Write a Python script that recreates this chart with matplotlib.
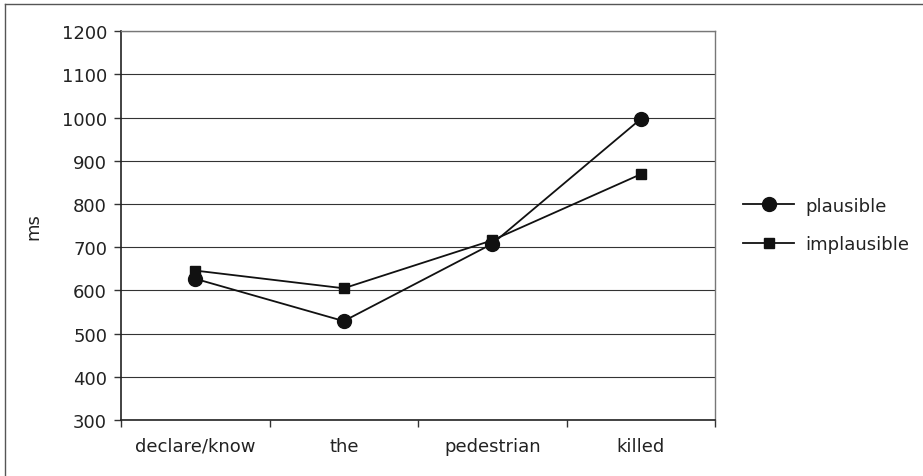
import matplotlib
matplotlib.use("Agg")
import matplotlib.pyplot as plt
from matplotlib.lines import Line2D

categories = ["declare/know", "the", "pedestrian", "killed"]
plausible = [627, 529, 708, 997]
implausible = [646, 605, 716, 869]
y_ticks = list(range(300, 1201, 100))

plt.rcParams['font.family'] = ['DejaVu Sans']
txt = "#222222"
fs = 13

fig = plt.figure(figsize=(9.23, 4.77), dpi=100)
ax = fig.add_axes([121 / 923, 1 - 421 / 477, (715 - 121) / 923, (421 - 32.3) / 477])

x = list(range(1, len(categories) + 1))
ax.plot(x, plausible, color="#111111", lw=1.3, marker="o", markersize=10, label="plausible")
ax.plot(x, implausible, color="#111111", lw=1.3, marker="s", markersize=7.5, label="implausible")

ax.set_xlim(0.5, len(categories) + 0.5)
ax.set_ylim(300, 1200)
ax.set_yticks(y_ticks)
ax.set_yticklabels([str(v) for v in y_ticks], fontsize=fs, color=txt)
ax.set_xticks([i + 0.5 for i in range(0, len(categories) + 1)])
ax.set_xticklabels([])
ax.set_xticks(x, minor=True)
ax.set_xticklabels(categories, minor=True, fontsize=fs, color=txt)
ax.tick_params(axis="x", which="minor", length=0, pad=12)
ax.tick_params(axis="x", which="major", length=5, width=1, color="#333333")
ax.tick_params(axis="y", length=5, width=1, color="#333333", pad=5)
ax.grid(True, axis="y", color="#333333", lw=0.8)
ax.set_axisbelow(True)

for s in ["left", "bottom"]:
    ax.spines[s].set_color("#222222")
    ax.spines[s].set_linewidth(1.2)
for s in ["top", "right"]:
    ax.spines[s].set_color("#777777")
    ax.spines[s].set_linewidth(1.0)

ax.set_ylabel("ms", fontsize=fs, color=txt, labelpad=14)

fig.legend(loc="center left", bbox_to_anchor=(743 / 923, 1 - 226 / 477), frameon=False,
           fontsize=fs, handlelength=2.83, handletextpad=0.6, labelspacing=1.15,
           borderpad=0, borderaxespad=0, labelcolor=txt)

# outer frame (top and left edges)
fig.add_artist(Line2D([4.5 / 923, 1], [1 - 4.5 / 477, 1 - 4.5 / 477], transform=fig.transFigure, color="#555555", lw=1))
fig.add_artist(Line2D([4.5 / 923, 4.5 / 923], [0, 1 - 4.5 / 477], transform=fig.transFigure, color="#555555", lw=1))

fig.savefig("out.png", dpi=100)
